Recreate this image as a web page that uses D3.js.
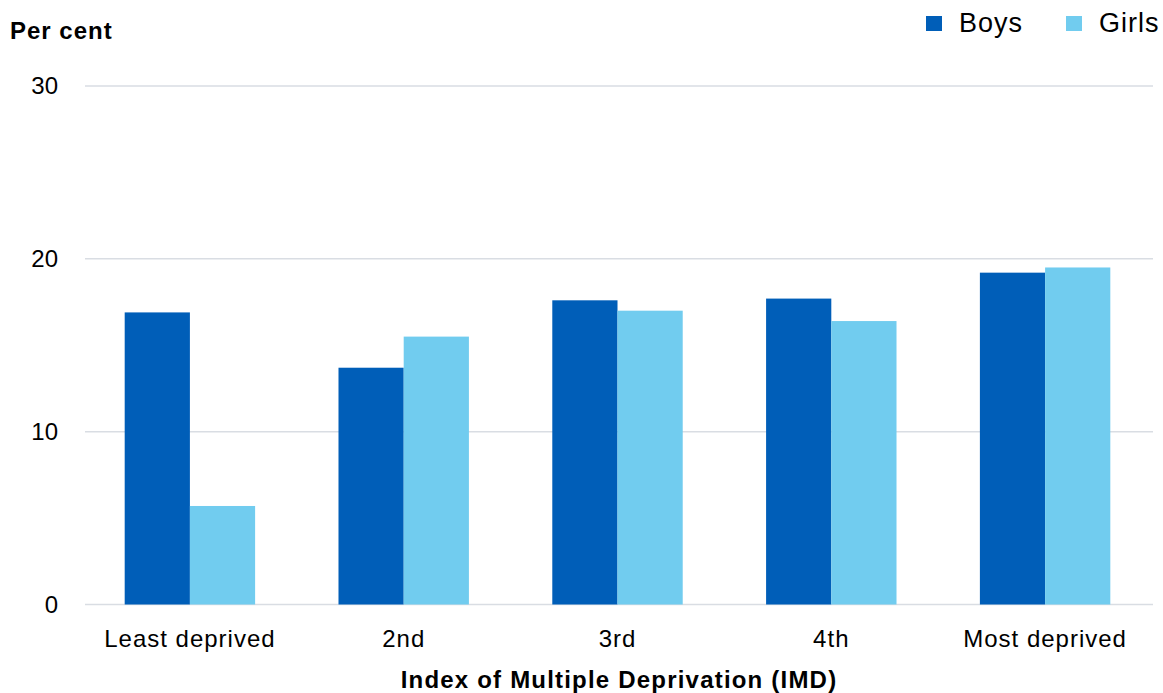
<!DOCTYPE html>
<html>
<head>
<meta charset="utf-8">
<script src="https://cdn.jsdelivr.net/npm/d3@7"></script>
<style>
  html, body { margin: 0; padding: 0; background: #fff; }
  svg { display: block; font-family: "Liberation Sans", Arial, sans-serif; }
</style>
</head>
<body>
<svg id="chart" width="1163" height="693"></svg>
<script>
// IMD quintiles and the share (per cent) of boys and girls in each
const categories = ["Least deprived", "2nd", "3rd", "4th", "Most deprived"];
const seriesNames = ["Boys", "Girls"];
const boys = [16.9, 13.7, 17.6, 17.7, 19.2];
const girls = [5.7, 15.5, 17.0, 16.4, 19.5];
const yTicks = [0, 10, 20, 30];
const colors = ["#005EB8", "#71CCEF"];

const svg = d3.select("#chart");
const plotLeft = 85, plotRight = 1153, plotTop = 86, plotBottom = 604.5;

const x = d3.scaleBand().domain(categories).range([83, 1152])
  .paddingInner(0.39).paddingOuter(0.195);
const xs = d3.scaleBand().domain(seriesNames).range([0, x.bandwidth()]);
const y = d3.scaleLinear().domain([0, 30]).range([plotBottom, plotTop]);

// horizontal gridlines
svg.append("g").selectAll("line").data(yTicks).join("line")
  .attr("x1", plotLeft).attr("x2", plotRight)
  .attr("y1", d => y(d)).attr("y2", d => y(d))
  .attr("stroke", "#D9DDE3").attr("stroke-width", 1.5);

// y tick labels
const yAxis = svg.append("g").attr("transform", `translate(${plotLeft},0)`)
  .call(d3.axisLeft(y).tickValues(yTicks).tickSize(0).tickPadding(27));
yAxis.select(".domain").remove();
yAxis.selectAll("text").attr("font-size", 24).attr("fill", "#000")
  .attr("font-family", "Liberation Sans, Arial, sans-serif");

// bars
const rows = categories.map((c, i) => ({ cat: c, vals: [boys[i], girls[i]] }));
const groups = svg.append("g").selectAll("g").data(rows).join("g")
  .attr("transform", d => `translate(${x(d.cat)},0)`);
groups.selectAll("rect")
  .data(d => d.vals.map((v, j) => ({ name: seriesNames[j], v, j })))
  .join("rect")
  .attr("x", d => xs(d.name))
  .attr("width", xs.bandwidth())
  .attr("y", d => y(d.v))
  .attr("height", d => y(0) - y(d.v))
  .attr("fill", d => colors[d.j]);

// x category labels
const xAxis = svg.append("g").attr("transform", `translate(0,${plotBottom})`)
  .call(d3.axisBottom(x).tickSize(0).tickPadding(25.5));
xAxis.select(".domain").remove();
xAxis.selectAll("text").attr("font-size", 24).attr("fill", "#000")
  .attr("letter-spacing", 1)
  .attr("font-family", "Liberation Sans, Arial, sans-serif");

// axis titles
svg.append("text").attr("x", 10).attr("y", 39)
  .attr("font-size", 24).attr("font-weight", "bold").attr("letter-spacing", 1)
  .text("Per cent");
svg.append("text").attr("x", (plotLeft + plotRight) / 2).attr("y", 688)
  .attr("text-anchor", "middle").attr("font-size", 24).attr("font-weight", "bold")
  .attr("letter-spacing", 1.2)
  .text("Index of Multiple Deprivation (IMD)");

// legend
const legendX = [926, 1066];
const legend = svg.append("g").selectAll("g").data(seriesNames).join("g")
  .attr("transform", (d, i) => `translate(${legendX[i]},16)`);
legend.append("rect").attr("width", 16).attr("height", 15)
  .attr("fill", (d, i) => colors[i]);
legend.append("text").attr("x", 33).attr("y", 16)
  .attr("font-size", 27).attr("letter-spacing", 1).text(d => d);
</script>
</body>
</html>
